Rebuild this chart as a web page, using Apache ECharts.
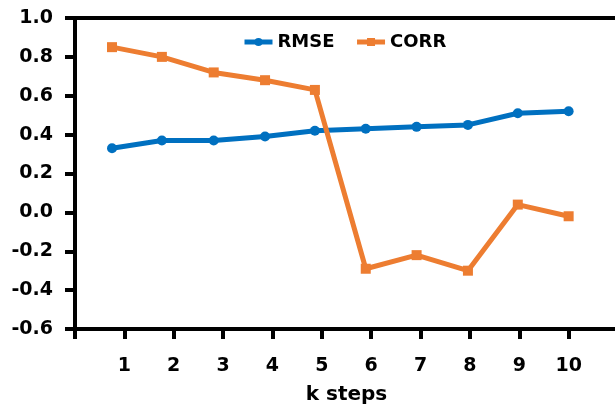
<!DOCTYPE html>
<html>
<head>
<meta charset="utf-8">
<script src="https://cdn.jsdelivr.net/npm/echarts@6/dist/echarts.min.js"></script>
<style>
  html, body { margin: 0; padding: 0; background: #fff; }
  #chart { width: 615px; height: 406px; }
</style>
</head>
<body>
<div id="chart"></div>
<script>
// 数据
var steps = [1, 2, 3, 4, 5, 6, 7, 8, 9, 10];
// 点的横向位置（图中点与刻度略有错位）
var xPos = [0.75, 1.76, 2.81, 3.85, 4.86, 5.89, 6.92, 7.96, 8.97, 10.0];
var rmse = [0.33, 0.37, 0.37, 0.39, 0.42, 0.43, 0.44, 0.45, 0.51, 0.52];
var corr = [0.85, 0.80, 0.72, 0.68, 0.63, -0.29, -0.22, -0.30, 0.04, -0.02];

var font = '"DejaVu Sans", sans-serif';
var myChart = echarts.init(document.getElementById('chart'));

function pairs(vals) {
    return vals.map(function (v, i) { return [xPos[i], v]; });
}

var axisStyle = {color: '#000', width: 4};

var option = {
    animation: false,
    backgroundColor: '#fff',
    grid: {
        left: 75,
        top: 18,
        width: 543,
        height: 311,
        outerBoundsMode: 'none'
    },
    legend: {
        top: 33,
        left: 242,
        padding: 0,
        itemWidth: 28,
        itemHeight: 10,
        itemGap: 20,
        lineStyle: {width: 5},
        textStyle: {fontFamily: font, fontWeight: 'bold', fontSize: 18, color: '#000'},
        data: ['RMSE', 'CORR']
    },
    xAxis: [
        {
            type: 'value',
            min: 0,
            max: 11,
            interval: 1,
            name: 'k steps',
            nameLocation: 'middle',
            nameGap: 56,
            nameTextStyle: {fontFamily: font, fontWeight: 'bold', fontSize: 20, color: '#000'},
            axisLine: {onZero: false, lineStyle: axisStyle},
            axisTick: {show: true, inside: false, length: 10, lineStyle: axisStyle},
            splitLine: {show: false},
            axisLabel: {
                margin: 28,
                fontFamily: font, fontWeight: 'bold', fontSize: 19, color: '#000',
                formatter: function (v) {
                    return steps.indexOf(v) >= 0 ? String(v) : '';
                }
            }
        },
        {
            type: 'value',
            position: 'top',
            min: 0,
            max: 11,
            axisLine: {show: true, onZero: false, lineStyle: axisStyle},
            axisTick: {show: false},
            axisLabel: {show: false},
            splitLine: {show: false}
        }
    ],
    yAxis: {
        type: 'value',
        min: -0.6,
        max: 1.0,
        interval: 0.2,
        axisLine: {show: true, onZero: false, lineStyle: axisStyle},
        axisTick: {show: true, inside: false, length: 10, lineStyle: axisStyle},
        splitLine: {show: false},
        axisLabel: {
            margin: 22,
            fontFamily: font, fontWeight: 'bold', fontSize: 19, color: '#000',
            formatter: function (v) { return v.toFixed(1); }
        }
    },
    series: [
        {
            name: 'RMSE',
            type: 'line',
            data: pairs(rmse),
            symbol: 'circle',
            symbolSize: 10,
            itemStyle: {color: '#0070C0'},
            lineStyle: {color: '#0070C0', width: 5}
        },
        {
            name: 'CORR',
            type: 'line',
            data: pairs(corr),
            symbol: 'rect',
            symbolSize: 10,
            itemStyle: {color: '#ED7D31'},
            lineStyle: {color: '#ED7D31', width: 5}
        }
    ]
};
myChart.setOption(option);
</script>
</body>
</html>
